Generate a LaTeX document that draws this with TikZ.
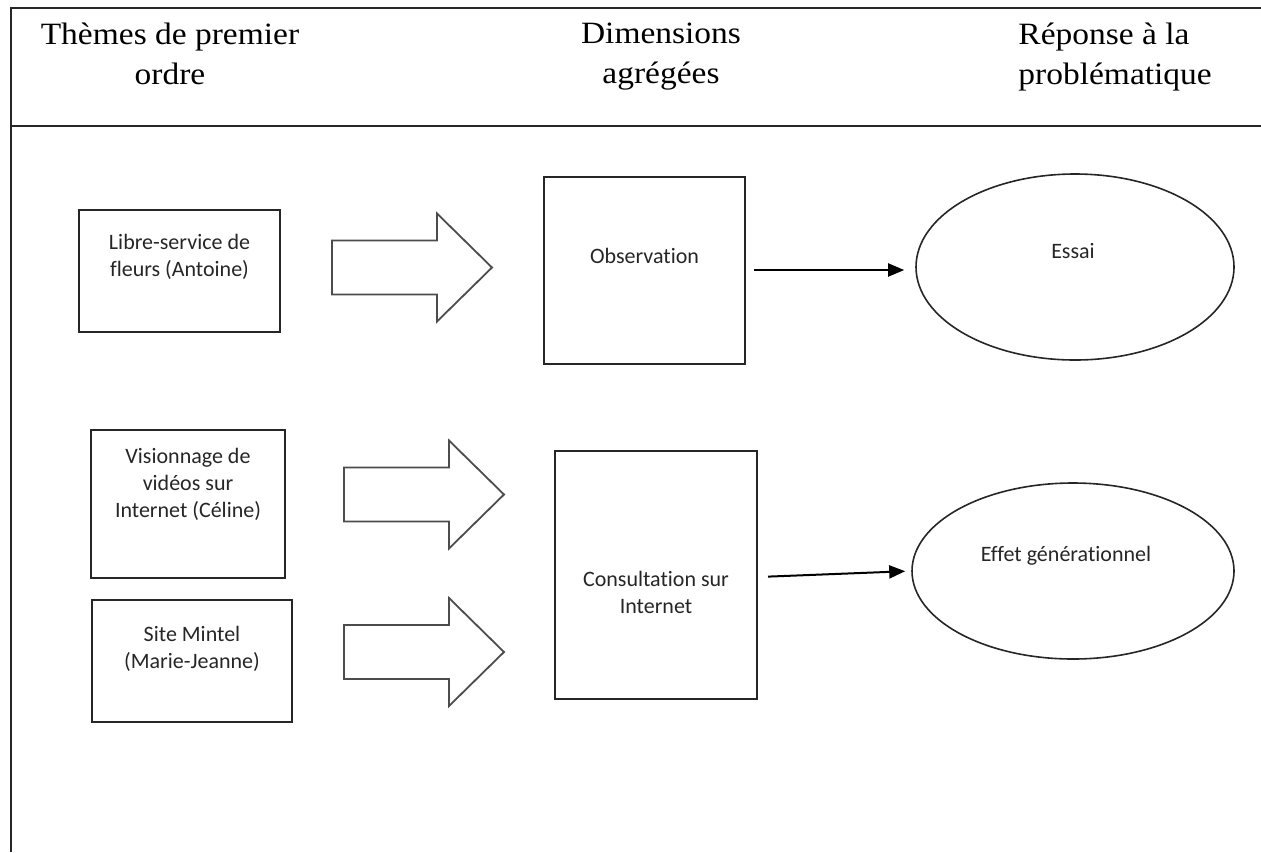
\documentclass[tikz,border=0pt]{standalone}
\usepackage{fontspec}
\setmainfont{Carlito}[Ligatures=CommonOff]
\newfontfamily\cabecalho[FakeStretch=1.08]{Liberation Serif}
\usetikzlibrary{positioning,arrows.meta,shapes.geometric}

\tikzset{
  moldura/.style={draw=black!85, line width=1pt},
  caixa/.style={draw=black!85, line width=1pt, inner sep=0pt},
  oval/.style={ellipse, draw=black!85, line width=0.8pt, inner sep=0pt},
  texto/.style={font=\fontsize{11}{13.5}\selectfont, align=center, inner sep=0pt, text=black!85},
  titulo/.style={font=\cabecalho\fontsize{15.5}{20}\selectfont, inner sep=0pt},
  seta/.style={->, line width=1pt, black},
  setagrande/.pic={
    \draw[line width=0.9pt, draw=black!70, line join=miter]
      (0,-27) -- (105,-27) -- (105,-54) -- (160,0) -- (105,54) -- (105,27) -- (0,27) -- cycle;
  }
}

\begin{document}
\begin{tikzpicture}[>={Triangle[length=8pt,width=6.5pt]}, x=0.5pt, y=-0.5pt]
            \useasboundingbox (0,0) rectangle (1261,852);

            % Moldura e cabeçalho
            \draw[moldura] (1261,8) -- (11,8) -- (11,852);
            \draw[moldura] (11,126) -- (1261,126);
            \node[titulo, align=center, anchor=north] (t1) at (170,23) {Thèmes de premier\\ordre};
            \node[titulo, align=center, anchor=north] (t2) at (661,23) {Dimensions\\agrégées};
            \node[titulo, align=left, anchor=north west] (t3) at (1018,23) {Réponse à la\\problématique};

            % Thèmes de premier ordre
            \node[caixa, minimum width=100.5pt, minimum height=61pt] (libre) at (179.5,271) {};
            \node[texto, below=12.5pt of libre.north] (libreT) {Libre-service de\\fleurs (Antoine)};
            \node[caixa, minimum width=97pt, minimum height=74pt] (video) at (188,504) {};
            \node[texto, below=9.5pt of video.north] (videoT) {Visionnage de\\vidéos sur\\Internet (Céline)};
            \node[caixa, minimum width=100pt, minimum height=61pt] (mintel) at (192,661) {};
            \node[texto, below=13.5pt of mintel.north] (mintelT) {Site Mintel\\(Marie-Jeanne)};

            % Setas largas
            \pic (s1) at (332,267.5) {setagrande};
            \pic (s2) at (344,494.5) {setagrande};
            \pic (s3) at (344,652) {setagrande};

            % Dimensions agrégées
            \node[caixa, minimum width=100.5pt, minimum height=93.5pt] (obs) at (644.5,270) {};
            \node[texto, below=36pt of obs.north] (obsT) {Observation};
            \node[caixa, minimum width=101pt, minimum height=124pt] (cons) at (656,575) {};
            \node[texto, below=60.5pt of cons.north] (consT) {Consultation sur\\Internet};

            % Réponse à la problématique
            \node[oval, minimum width=159pt, minimum height=93pt] (essai) at (1075,267) {};
            \node[texto, below=35pt of essai.north, xshift=-1pt] (essaiT) {Essai};
            \node[oval, minimum width=161pt, minimum height=88pt] (effet) at (1073,571) {};
            \node[texto, below=32pt of effet.north, xshift=-3.5pt] (effetT) {Effet générationnel};

            \draw[seta, shorten <=4pt, shorten >=5.5pt] (obs.east) -- (obs.east -| essai.west);
            \draw[seta, shorten <=5pt, shorten >=3pt] (cons.east) ++(0,2) -- (effet.west);
\end{tikzpicture}
\end{document}
